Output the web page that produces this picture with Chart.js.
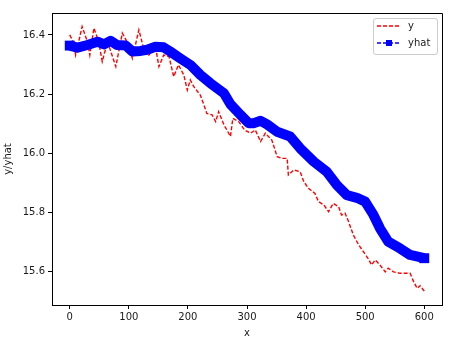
<!DOCTYPE html>
<html>
<head>
<meta charset="utf-8">
<script src="https://cdn.jsdelivr.net/npm/chart.js@4/dist/chart.umd.min.js"></script>
<style>
  html, body { margin: 0; padding: 0; background: #fff; }
  #chart { display: block; }
</style>
</head>
<body>
<canvas id="chart" width="450" height="339"></canvas>
<script>
const y_x = [0, 7, 10, 21, 30, 34, 41, 49, 55, 64, 78, 89, 97, 106, 117, 125, 134, 145, 151, 159,
  168, 176, 184, 193, 199, 204, 210, 221, 227, 232, 241, 247, 252, 261, 266, 272, 276, 286, 296, 306,
  314, 323, 331, 342, 351, 359, 368, 370, 379, 390, 396, 404, 415, 421, 430, 438, 446, 455, 460, 466,
  472, 480, 489, 497, 505, 511, 517, 525, 534, 539, 548, 559, 576, 582, 588, 593, 600];
const y_vals = [16.400, 16.372, 16.332, 16.428, 16.377, 16.332, 16.423, 16.377, 16.310, 16.377,
  16.293, 16.406, 16.377, 16.321, 16.417, 16.355, 16.332, 16.361, 16.293, 16.332,
  16.327, 16.259, 16.299, 16.265, 16.214, 16.248, 16.225, 16.197, 16.164, 16.135,
  16.130, 16.107, 16.141, 16.096, 16.079, 16.057, 16.118, 16.107, 16.079, 16.068,
  16.079, 16.040, 16.068, 16.045, 15.989, 15.983, 15.983, 15.927, 15.944, 15.938,
  15.905, 15.882, 15.865, 15.837, 15.826, 15.803, 15.831, 15.820, 15.792, 15.798,
  15.769, 15.724, 15.691, 15.668, 15.645, 15.623, 15.640, 15.623, 15.600, 15.612,
  15.600, 15.595, 15.595, 15.567, 15.544, 15.553, 15.535];

// yhat (fitted)
const yhat_x = [0, 13, 30, 47, 58, 69, 80, 95, 106, 120, 131, 145, 159, 170, 187, 204, 221, 238, 261, 272,
  289, 303, 311, 323, 334, 351, 373, 390, 413, 435, 452, 469, 486, 500, 514, 525, 539, 559, 576, 600];
const yhat_vals = [16.364, 16.357, 16.366, 16.377, 16.368, 16.380, 16.366, 16.364, 16.344, 16.346,
  16.350, 16.360, 16.358, 16.344, 16.321, 16.299, 16.265, 16.237, 16.203, 16.166,
  16.130, 16.102, 16.102, 16.110, 16.098, 16.073, 16.057, 16.017, 15.972, 15.938,
  15.893, 15.859, 15.850, 15.837, 15.792, 15.747, 15.702, 15.679, 15.657, 15.646];

const xTicks = [0, 100, 200, 300, 400, 500, 600];
const yTicks = [15.6, 15.8, 16.0, 16.2, 16.4];
const legendLabels = ["y", "yhat"];

const FONT = { family: "'DejaVu Sans', sans-serif", size: 10 };
const TEXT = "#1a1a1a";

const toPoints = (xs, vs) => xs.map((x, i) => ({ x: x, y: vs[i] }));

// top + right spines and the matplotlib style legend
const framePlugin = {
  id: "frame",
  afterDraw(chart) {
    const ctx = chart.ctx;
    const a = chart.chartArea;
    ctx.save();
    ctx.strokeStyle = "#000";
    ctx.lineWidth = 1;
    ctx.beginPath();
    ctx.moveTo(Math.round(a.left) + 0.5, Math.round(a.top) + 0.5);
    ctx.lineTo(Math.round(a.right) + 0.5, Math.round(a.top) + 0.5);
    ctx.lineTo(Math.round(a.right) + 0.5, Math.round(a.bottom) + 0.5);
    ctx.stroke();

    // legend box
    const bx = 373.5, by = 18.5, bw = 64, bh = 36;
    ctx.fillStyle = "rgba(255,255,255,0.85)";
    ctx.strokeStyle = "#cccccc";
    ctx.beginPath();
    ctx.roundRect(bx, by, bw, bh, 2.5);
    ctx.fill();
    ctx.stroke();

    const rows = [26, 43];
    ctx.lineWidth = 1.4;
    ctx.setLineDash([4, 2]);
    ctx.strokeStyle = "#ff0000";
    ctx.beginPath();
    ctx.moveTo(377, rows[0]);
    ctx.lineTo(400, rows[0]);
    ctx.stroke();
    ctx.strokeStyle = "#0000ff";
    ctx.beginPath();
    ctx.moveTo(377, rows[1]);
    ctx.lineTo(400, rows[1]);
    ctx.stroke();
    ctx.setLineDash([]);
    ctx.fillStyle = "#0000ff";
    ctx.fillRect(386, rows[1] - 3, 6, 6);

    ctx.fillStyle = TEXT;
    ctx.font = "10px 'DejaVu Sans', sans-serif";
    ctx.textBaseline = "middle";
    ctx.textAlign = "left";
    ctx.fillText(legendLabels[0], 408, rows[0]);
    ctx.fillText(legendLabels[1], 408, rows[1]);
    ctx.restore();
  },
};

const lastHat = yhat_x.length - 1;

new Chart(document.getElementById("chart").getContext("2d"), {
  type: "line",
  data: {
    datasets: [
      {
        label: "yhat",
        data: toPoints(yhat_x, yhat_vals),
        borderColor: "#0000ff",
        backgroundColor: "#0000ff",
        borderWidth: 10,
        borderJoinStyle: "round",
        borderCapStyle: "butt",
        pointStyle: "rect",
        pointRadius: (c) => (c.dataIndex === 0 || c.dataIndex === lastHat ? 7 : 4),
        pointBorderWidth: 0,
        tension: 0,
        order: 0,
      },
      {
        label: "y",
        data: toPoints(y_x, y_vals),
        borderColor: "#ff0000",
        borderWidth: 1.4,
        borderDash: [4, 2],
        pointRadius: 0,
        tension: 0,
        order: 1,
      },
    ],
  },
  options: {
    responsive: false,
    animation: false,
    layout: { padding: { top: 13, right: 8, left: 0, bottom: 0 } },
    plugins: { legend: { display: false }, tooltip: { enabled: false } },
    scales: {
      x: {
        type: "linear",
        min: -30,
        max: 630,
        afterBuildTicks: (scale) => {
          scale.ticks = xTicks.map((v) => ({ value: v }));
        },
        afterFit: (scale) => {
          scale.height = 34;
        },
        grid: { drawOnChartArea: false, tickLength: 4, color: "#000" },
        border: { display: true, color: "#000", width: 1 },
        ticks: { font: FONT, color: TEXT, padding: 2, maxRotation: 0 },
        title: { display: true, text: "x", font: FONT, color: TEXT, padding: { top: 0, bottom: 0 } },
      },
      y: {
        type: "linear",
        min: 15.488,
        max: 16.474,
        afterBuildTicks: (scale) => {
          scale.ticks = yTicks.map((v) => ({ value: v }));
        },
        afterFit: (scale) => {
          scale.width = 52;
        },
        grid: { drawOnChartArea: false, tickLength: 4, color: "#000" },
        border: { display: true, color: "#000", width: 1 },
        ticks: {
          font: FONT,
          color: TEXT,
          padding: 3,
          callback: (v) => Number(v).toFixed(1),
        },
        title: { display: true, text: "y/yhat", font: FONT, color: TEXT, padding: { top: 2, bottom: 0 } },
      },
    },
  },
  plugins: [framePlugin],
});
</script>
</body>
</html>
